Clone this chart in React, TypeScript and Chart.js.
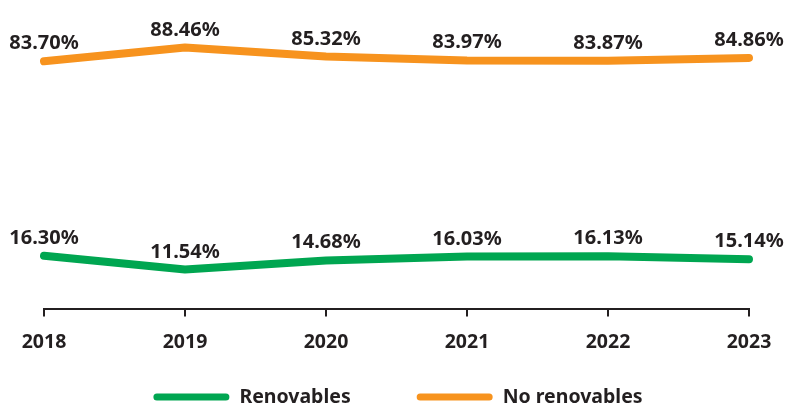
import React, { useEffect, useRef } from "react";
import { Chart, registerables } from "chart.js";

Chart.register(...registerables);

const years = ["2018", "2019", "2020", "2021", "2022", "2023"];
const renovables = [16.3, 11.54, 14.68, 16.03, 16.13, 15.14];
const noRenovables = [83.7, 88.46, 85.32, 83.97, 83.87, 84.86];
const seriesNames = ["Renovables", "No renovables"];

const FONT = '"Noto Sans", "DejaVu Sans", sans-serif';
const TEXT = "#231f20";
const GREEN = "#00a651";
const ORANGE = "#f7931e";

const valueLabels = {
  id: "valueLabels",
  afterDatasetsDraw(chart: any) {
    const ctx = chart.ctx;
    ctx.save();
    ctx.font = `bold 20px ${FONT}`;
    ctx.fillStyle = TEXT;
    ctx.textAlign = "center";
    ctx.textBaseline = "alphabetic";
    chart.data.datasets.forEach((ds: any, i: number) => {
      const meta = chart.getDatasetMeta(i);
      meta.data.forEach((pt: any, j: number) => {
        const v = ds.data[j] as number;
        ctx.fillText(v.toFixed(2) + "%", pt.x, pt.y - 12);
      });
    });
    ctx.restore();
  },
};

const bottomLegend = {
  id: "bottomLegend",
  afterDraw(chart: any) {
    const ctx = chart.ctx;
    const lineW = 76;
    const gapText = 10;
    const gapItem = 66;
    ctx.save();
    ctx.font = `bold 19.5px ${FONT}`;
    const items = chart.data.datasets.map((ds: any) => ({
      text: ds.label as string,
      color: ds.borderColor as string,
      w: ctx.measureText(ds.label).width as number,
    }));
    const total =
      items.reduce((s: number, it: any) => s + lineW + gapText + it.w, 0) +
      gapItem * (items.length - 1);
    let x = (chart.width - total) / 2 + 3;
    const y = chart.height - 9;
    items.forEach((it: any) => {
      ctx.strokeStyle = it.color;
      ctx.lineWidth = 7;
      ctx.lineCap = "round";
      ctx.beginPath();
      ctx.moveTo(x + 3.5, y);
      ctx.lineTo(x + lineW - 3.5, y);
      ctx.stroke();
      ctx.fillStyle = TEXT;
      ctx.textAlign = "left";
      ctx.textBaseline = "middle";
      ctx.fillText(it.text, x + lineW + gapText, y);
      x += lineW + gapText + it.w + gapItem;
    });
    ctx.restore();
  },
};

export default function App() {
  const canvasRef = useRef<HTMLCanvasElement | null>(null);

  useEffect(() => {
    document.body.style.margin = "0";
    const canvas = canvasRef.current;
    if (!canvas) return;
    const chart = new Chart(canvas, {
      type: "line",
      data: {
        labels: years,
        datasets: [
          {
            label: seriesNames[0],
            data: renovables,
            borderColor: GREEN,
            backgroundColor: GREEN,
            borderWidth: 8,
            borderCapStyle: "round",
            borderJoinStyle: "round",
            pointRadius: 0,
            tension: 0,
          },
          {
            label: seriesNames[1],
            data: noRenovables,
            borderColor: ORANGE,
            backgroundColor: ORANGE,
            borderWidth: 8,
            borderCapStyle: "round",
            borderJoinStyle: "round",
            pointRadius: 0,
            tension: 0,
          },
        ],
      },
      options: {
        animation: false,
        responsive: true,
        maintainAspectRatio: false,
        layout: { padding: { top: 20, left: 44, right: 41, bottom: 38 } },
        plugins: {
          legend: { display: false },
          tooltip: { enabled: false },
        },
        scales: {
          x: {
            type: "category",
            offset: false,
            grid: {
              display: true,
              drawOnChartArea: false,
              drawTicks: true,
              tickLength: 8,
              color: TEXT,
              lineWidth: 2,
            },
            border: { display: true, color: TEXT, width: 2 },
            ticks: {
              color: TEXT,
              font: { family: FONT, size: 19.5, weight: "bold" },
              padding: 14,
              maxRotation: 0,
              autoSkip: false,
            },
          },
          y: { display: false, min: -2, max: 98 },
        },
      },
      plugins: [valueLabels, bottomLegend],
    });
    return () => chart.destroy();
  }, []);

  return (
    <div style={{ width: 790, height: 406, position: "relative" }}>
      <canvas ref={canvasRef} />
    </div>
  );
}
